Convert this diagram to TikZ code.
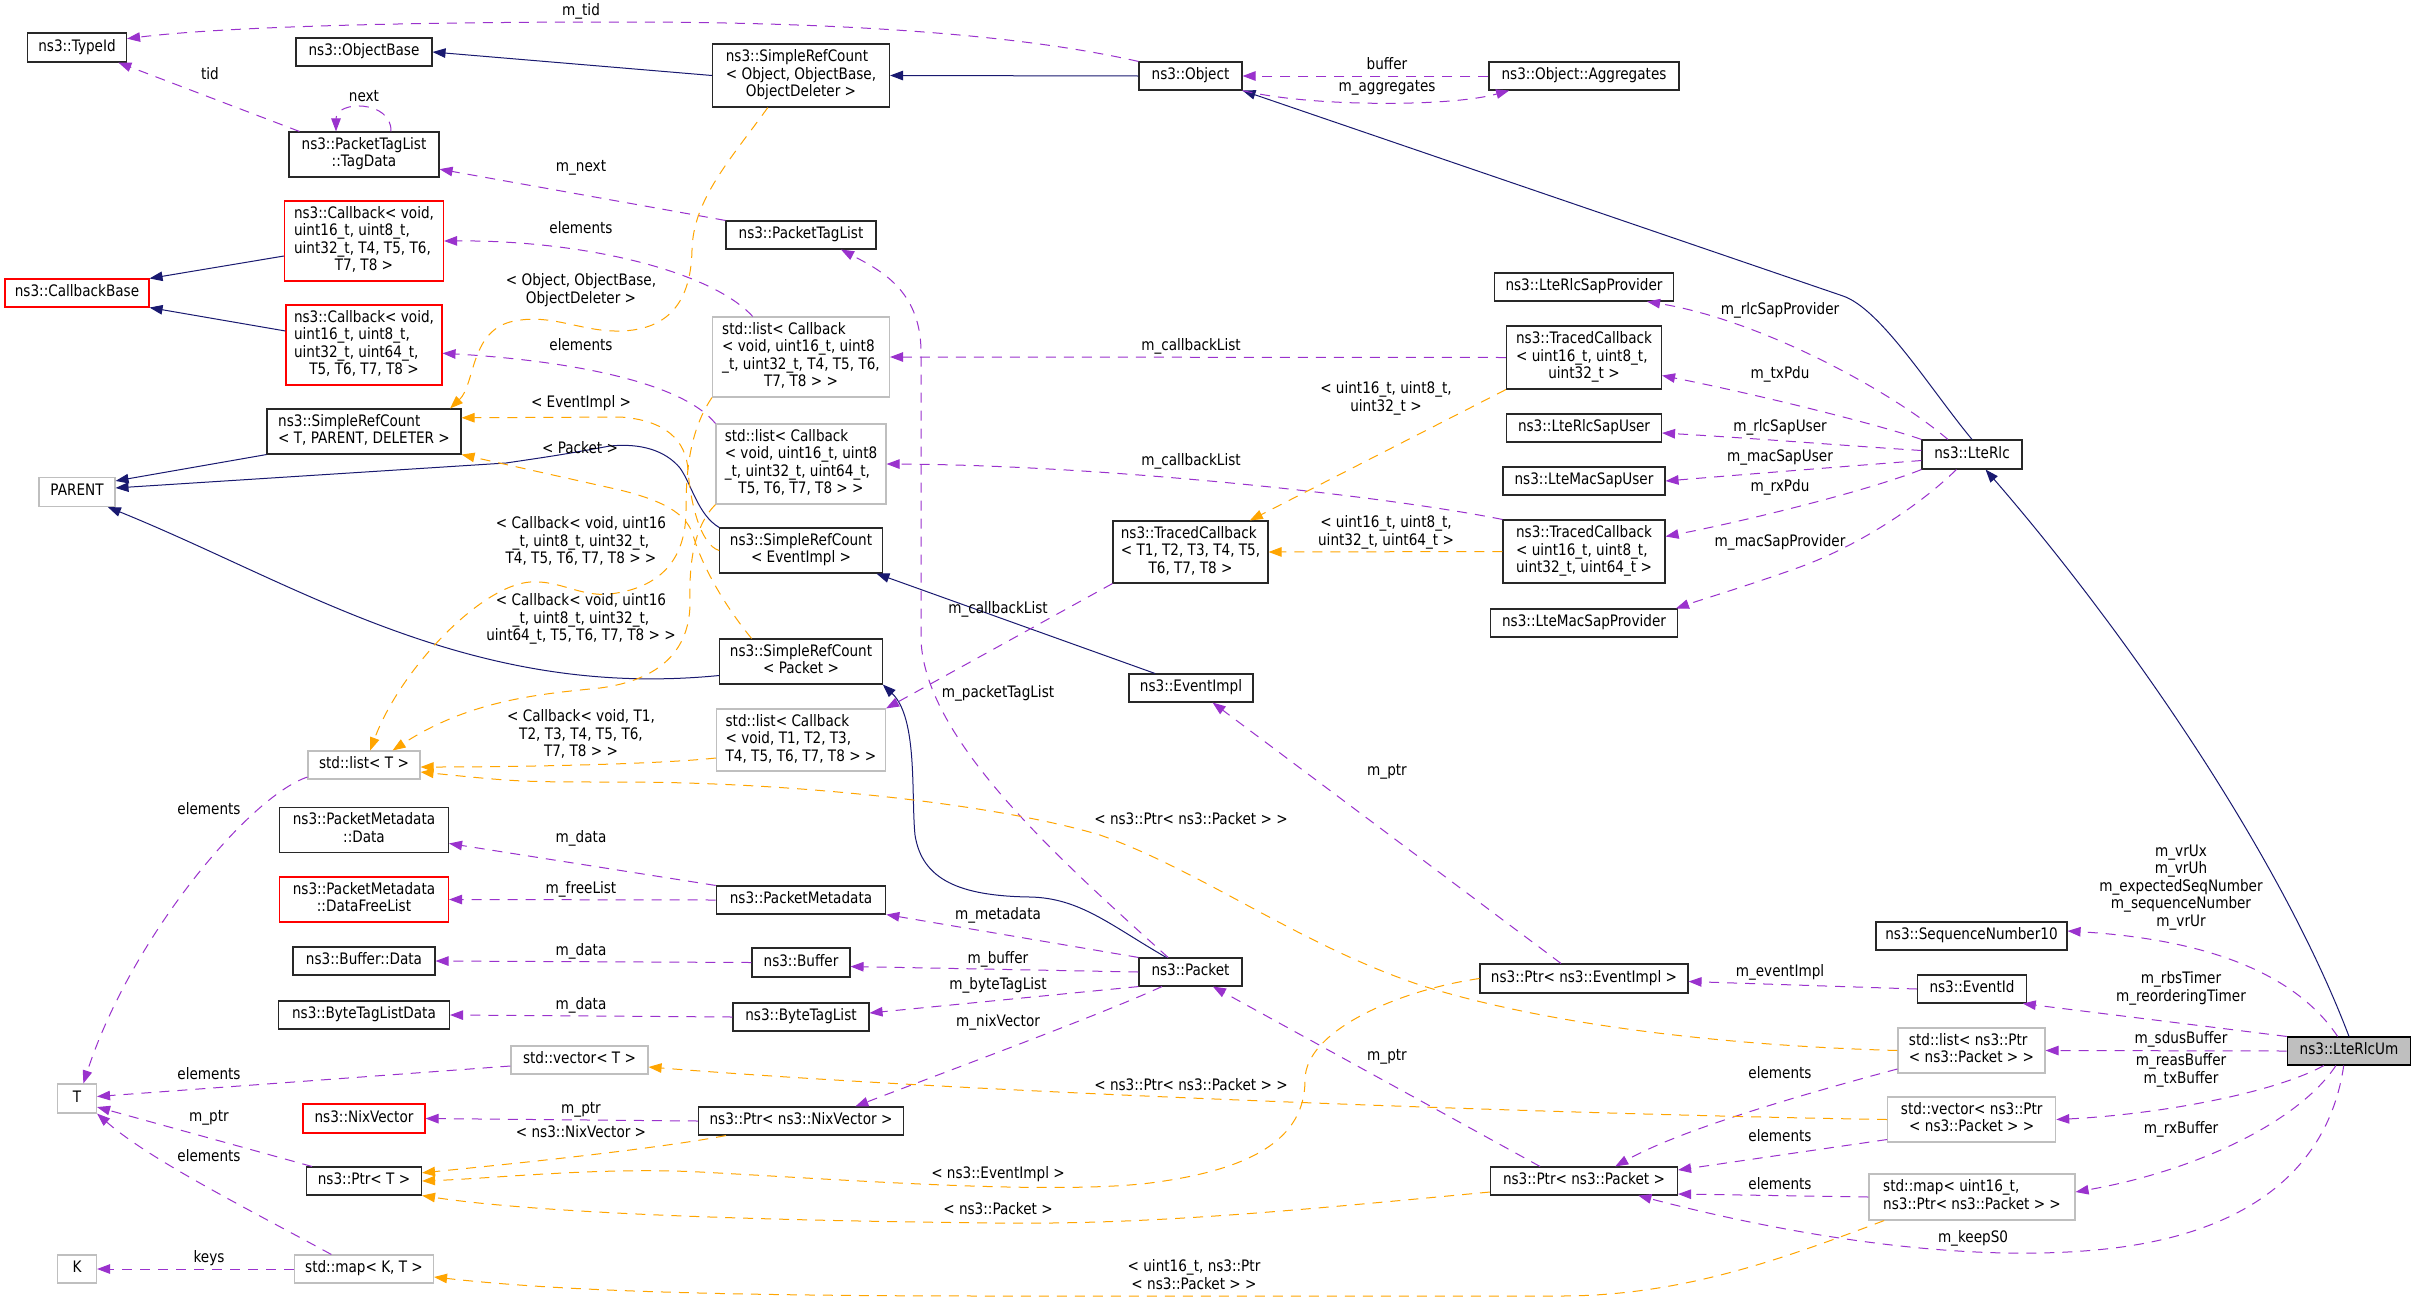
\documentclass[tikz,border=0pt]{standalone}
\usepackage{fontspec}
\setmainfont{DejaVu Sans}[FakeStretch=0.86]
\usetikzlibrary{arrows.meta}
\definecolor{BoxColor}{RGB}{40, 40, 40}
\definecolor{TmplBoxColor}{RGB}{191, 191, 191}
\definecolor{MainFillColor}{RGB}{191, 191, 191}
\definecolor{InheritColor}{RGB}{25, 25, 112}
\definecolor{UsageColor}{RGB}{154, 50, 205}
\definecolor{TmplColor}{RGB}{255, 165, 0}
\newcommand{\dxfont}{\fontsize{15.8}{17.5}\selectfont}
% left aligned lines, last line centered
\newcommand{\leftlines}[2]{\begin{tabular}{@{}l@{}}#1\\\multicolumn{1}{@{}c@{}}{#2}\end{tabular}}
\tikzset{
    classbox/.style={
        draw=BoxColor,
        line width=1.1pt,
        rectangle,
        font=\dxfont,
        inner xsep=3pt,
        inner ysep=2pt,
        minimum height=28,
        execute at begin node=\strut,
        execute at end node=\strut
    },
    partbox/.style={classbox, draw=red},
    tmplbox/.style={classbox, draw=TmplBoxColor},
    mainbox/.style={classbox, draw=black, fill=MainFillColor}
}

\begin{document}
\begin{tikzpicture}[x=1pt, y=-1pt]

    \path[use as bounding box, fill=white] (0,0) rectangle (2416,1301);

    % ============================================================================
    % CLASSES
    % ============================================================================

    % Left column: plain types
    \node[classbox, minimum width=99, minimum height=29] (TypeId) at (77,47.5) {ns3::TypeId};
    \node[partbox, minimum width=144] (CallbackBase) at (77,293) {ns3::CallbackBase};
    \node[tmplbox, minimum width=76, minimum height=29] (Parent) at (77,492) {PARENT};
    \node[tmplbox, minimum width=39, minimum height=29] (T) at (77,1098.5) {T};
    \node[tmplbox, minimum width=39] (K) at (77,1269) {K};

    % Second column
    \node[classbox, minimum width=136] (ObjectBase) at (364,52) {ns3::ObjectBase};
    \node[classbox, minimum width=150, minimum height=45] (TagData) at (364,154.5) {\leftlines{ns3::PacketTagList}{::TagData}};
    \node[partbox, minimum width=159, minimum height=80] (CbA) at (364,241) {\leftlines{ns3::Callback< void,\\uint16\_t, uint8\_t,\\uint32\_t, T4, T5, T6,}{T7, T8 >}};
    \node[partbox, minimum width=156, minimum height=80] (CbB) at (364,345) {\leftlines{ns3::Callback< void,\\uint16\_t, uint8\_t,\\uint32\_t, uint64\_t,}{T5, T6, T7, T8 >}};
    \node[classbox, minimum width=194, minimum height=45] (SrcTPD) at (364,431.5) {\leftlines{ns3::SimpleRefCount}{< T, PARENT, DELETER >}};
    \node[tmplbox, minimum width=112] (ListT) at (364,765) {std::list< T >};
    \node[classbox, minimum width=169, minimum height=45] (MetaData) at (364,830) {\leftlines{ns3::PacketMetadata}{::Data}};
    \node[partbox, minimum width=169, minimum height=45] (DataFreeList) at (364,899.5) {\leftlines{ns3::PacketMetadata}{::DataFreeList}};
    \node[classbox, minimum width=142] (BufferData) at (364,961) {ns3::Buffer::Data};
    \node[classbox, minimum width=171] (ByteTagListData) at (364,1015) {ns3::ByteTagListData};
    \node[partbox, minimum width=122, minimum height=29] (NixVector) at (364,1118.5) {ns3::NixVector};
    \node[classbox, minimum width=115] (PtrT) at (364,1181) {ns3::Ptr< T >};
    \node[tmplbox, minimum width=139] (MapKT) at (364,1269) {std::map< K, T >};
    \node[tmplbox, minimum width=137] (VectorT) at (579.5,1060) {std::vector< T >};

    % Third column
    \node[classbox, minimum width=177, minimum height=63] (SrcObject) at (801,75.5) {\leftlines{ns3::SimpleRefCount\\< Object, ObjectBase,}{ObjectDeleter >}};
    \node[classbox, minimum width=150] (PacketTagList) at (801,235) {ns3::PacketTagList};
    \node[tmplbox, minimum width=177, minimum height=80] (ListCbA) at (801,357) {\leftlines{std::list< Callback\\< void, uint16\_t, uint8\\\_t, uint32\_t, T4, T5, T6,}{T7, T8 > >}};
    \node[tmplbox, minimum width=170, minimum height=80] (ListCbB) at (801,464) {\leftlines{std::list< Callback\\< void, uint16\_t, uint8\\\_t, uint32\_t, uint64\_t,}{T5, T6, T7, T8 > >}};
    \node[classbox, minimum width=162.5, minimum height=45] (SrcEventImpl) at (801,550.5) {\leftlines{ns3::SimpleRefCount}{< EventImpl >}};
    \node[classbox, minimum width=162.5, minimum height=45] (SrcPacket) at (801,661.5) {\leftlines{ns3::SimpleRefCount}{< Packet >}};
    \node[tmplbox, minimum width=169, minimum height=62] (ListCbT) at (801,740) {\leftlines{std::list< Callback\\< void, T1, T2, T3,}{T4, T5, T6, T7, T8 > >}};
    \node[classbox, minimum width=169.5] (PacketMetadata) at (801,900) {ns3::PacketMetadata};
    \node[classbox, minimum width=98, minimum height=29] (Buffer) at (801,962.5) {ns3::Buffer};
    \node[classbox, minimum width=136] (ByteTagList) at (801,1017) {ns3::ByteTagList};
    \node[classbox, minimum width=205] (PtrNixVector) at (801,1121) {ns3::Ptr< ns3::NixVector >};

    % Fourth column
    \node[classbox, minimum width=103] (Object) at (1190.5,76) {ns3::Object};
    \node[classbox, minimum width=155, minimum height=62] (TracedCbT) at (1190.5,552) {\leftlines{ns3::TracedCallback\\< T1, T2, T3, T4, T5,}{T6, T7, T8 >}};
    \node[classbox, minimum width=124] (EventImpl) at (1191,688) {ns3::EventImpl};
    \node[classbox, minimum width=103] (Packet) at (1190.5,972) {ns3::Packet};

    % Fifth column
    \node[classbox, minimum width=190] (Aggregates) at (1584,76) {ns3::Object::Aggregates};
    \node[classbox, minimum width=179] (LteRlcSapProvider) at (1584,287) {ns3::LteRlcSapProvider};
    \node[classbox, minimum width=155, minimum height=63] (TracedCbA) at (1584,357.5) {\leftlines{ns3::TracedCallback\\< uint16\_t, uint8\_t,}{uint32\_t >}};
    \node[classbox, minimum width=155] (LteRlcSapUser) at (1584,428) {ns3::LteRlcSapUser};
    \node[classbox, minimum width=162] (LteMacSapUser) at (1584,481) {ns3::LteMacSapUser};
    \node[classbox, minimum width=162, minimum height=63] (TracedCbB) at (1584,551.5) {\leftlines{ns3::TracedCallback\\< uint16\_t, uint8\_t,}{uint32\_t, uint64\_t >}};
    \node[classbox, minimum width=187] (LteMacSapProvider) at (1584,623) {ns3::LteMacSapProvider};
    \node[classbox, minimum width=208, minimum height=29] (PtrEventImpl) at (1584,978.5) {ns3::Ptr< ns3::EventImpl >};
    \node[classbox, minimum width=187] (PtrPacket) at (1584,1181) {ns3::Ptr< ns3::Packet >};

    % Sixth column
    \node[classbox, minimum width=100, minimum height=29] (LteRlc) at (1972,454.5) {ns3::LteRlc};
    \node[classbox, minimum width=191] (SeqNum) at (1971.5,936) {ns3::SequenceNumber10};
    \node[classbox, minimum width=109] (EventId) at (1972,989) {ns3::EventId};
    \node[tmplbox, minimum width=147, minimum height=45] (ListPtrPkt) at (1971.5,1050.5) {\leftlines{std::list< ns3::Ptr}{< ns3::Packet > >}};
    \node[tmplbox, minimum width=168, minimum height=45] (VecPtrPkt) at (1971.7,1119.5) {\leftlines{std::vector< ns3::Ptr}{< ns3::Packet > >}};
    \node[tmplbox, minimum width=206, minimum height=46] (MapPtrPkt) at (1972,1197) {\leftlines{std::map< uint16\_t,}{ns3::Ptr< ns3::Packet > >}};

    % Main class
    \node[mainbox, minimum width=123.5] (LteRlcUm) at (2349,1051) {ns3::LteRlcUm};

    % ============================================================================
    % RELATIONSHIPS
    % ============================================================================

    \tikzset{
        inherits/.style={draw=InheritColor, line width=1pt, -{Triangle[length=13pt, width=9.5pt]}},
        uses/.style={draw=UsageColor, line width=1pt, dash pattern=on 10pt off 8pt, -{Triangle[length=13pt, width=9.5pt]}},
        instof/.style={draw=TmplColor, line width=1pt, dash pattern=on 10pt off 8pt, -{Triangle[length=13pt, width=9.5pt]}},
        lbl/.style={font=\dxfont, inner sep=0pt, align=center, execute at begin node=\strut, execute at end node=\strut}
    }

    % Inheritance
    \draw[inherits] (SrcObject.west) -- (ObjectBase.east);
    \draw[inherits] (Object.west) -- (SrcObject.east);
    \draw[inherits] (LteRlc.north) .. controls (1931,390) and (1881,309) .. (1843,296) -- (Object.south east);
    \draw[inherits] (LteRlcUm.north) .. controls (2277,847) and (2117,621) .. (LteRlc.-48);
    \draw[inherits] ([yshift=-15]CbA.west) -- (CallbackBase.north east);
    \draw[inherits] ([yshift=14]CbB.west) -- (CallbackBase.south east);
    \draw[inherits] (SrcTPD.south west) -- (Parent.16);
    \draw[inherits] (SrcEventImpl.north west) .. controls (698,515) and (692,485) .. (680,468) .. controls (665,450) and (640,443) .. (610,446) .. controls (560,455) .. (506,463) -- (Parent.6);
    \draw[inherits] ([yshift=-14]SrcPacket.west) .. controls (470,700) and (300,585) .. (Parent.-26);
    \draw[inherits] (EventImpl.158) -- (SrcEventImpl.-17);
    \draw[inherits] (Packet.149) .. controls (1110,925) and (1080,898) .. (1030,897) .. controls (960,896) and (922,880) .. (915,835) .. controls (911,795) and (918,718) .. (SrcPacket.south east);

    % Usage (members)
    \draw[uses] (Object.north west) .. controls (1000,30) and (800,22) .. (620,22) .. controls (400,22) and (220,27) .. (TypeId.10) node[lbl] (lTid) at (581,12) {m\_tid};
    \draw[uses] ([xshift=11]TagData.north west) -- (TypeId.-20) node[lbl] (lTidB) at (210,76) {tid};
    \draw[uses] ([xshift=27]TagData.north) .. controls (392,100) and (336,100) .. ([xshift=-28]TagData.north) node[lbl] (lNext) at (364,98) {next};
    \draw[uses] (PacketTagList.north west) -- (TagData.-11) node[lbl] (lNextB) at (581,168) {m\_next};
    \draw[uses] (Aggregates.west) -- (Object.east) node[lbl] (lBuffer) at (1387,66) {buffer};
    \draw[uses] (Object.south east) .. controls (1310,107) and (1450,107) .. (Aggregates.-169) node[lbl] (lAggr) at (1387,88) {m\_aggregates};
    \draw[uses] (Packet.147) .. controls (1060,860) and (925,740) .. (921,640) -- (921,350) .. controls (920,290) and (880,270) .. (PacketTagList.-20) node[lbl] (lPtl) at (998,694) {m\_packetTagList};
    \draw[uses] (ListCbA.140) .. controls (710,270) and (580,240) .. (CbA.east) node[lbl] (lElemA) at (581,230) {elements};
    \draw[uses] (ListCbB.north west) .. controls (680,380) and (560,360) .. (CbB.-6) node[lbl] (lElemB) at (581,347) {elements};
    \draw[uses] (TracedCbA.west) -- (ListCbA.east) node[lbl] (lCbListA) at (1191,347) {m\_callbackList};
    \draw[uses] (TracedCbB.north west) .. controls (1380,495) and (1100,465) .. (ListCbB.east) node[lbl] (lCbListB) at (1191,462) {m\_callbackList};
    \draw[uses] (TracedCbT.south west) -- (ListCbT.north east) node[lbl] (lCbListT) at (998,610) {m\_callbackList};

    % LteRlc members
    \draw[uses] (LteRlc.148) .. controls (1890,390) and (1760,320) .. (LteRlcSapProvider.-13) node[lbl] (lRlcProv) at (1780,311) {m\_rlcSapProvider};
    \draw[uses] (LteRlc.north west) .. controls (1880,425) and (1760,395) .. (TracedCbA.-13) node[lbl] (lTxPdu) at (1780,375) {m\_txPdu};
    \draw[uses] ([yshift=4]LteRlc.west) .. controls (1850,446) and (1750,438) .. ([yshift=-5]LteRlcSapUser.east) node[lbl] (lRlcUser) at (1780,428) {m\_rlcSapUser};
    \draw[uses] ([yshift=-6]LteRlc.west) .. controls (1850,466) and (1750,474) .. (LteMacSapUser.east) node[lbl] (lMacUser) at (1780,458) {m\_macSapUser};
    \draw[uses] (LteRlc.south west) .. controls (1870,490) and (1750,520) .. ([yshift=15]TracedCbB.east) node[lbl] (lRxPdu) at (1780,488) {m\_rxPdu};
    \draw[uses] (LteRlc.-136) .. controls (1920,505) and (1860,545) .. (1800,567) .. controls (1750,585) and (1700,600) .. (LteMacSapProvider.9) node[lbl] (lMacProv) at (1780,543) {m\_macSapProvider};

    % Pointers and packet members
    \draw[uses] ([xshift=-23]PtrEventImpl.north) -- (EventImpl.-34) node[lbl] (lPtrEv) at (1387,772) {m\_ptr};
    \draw[uses] ([xshift=-44]PtrPacket.north) -- (Packet.-33) node[lbl] (lPtrPkt) at (1387,1057) {m\_ptr};
    \draw[uses] (PacketMetadata.north west) -- (MetaData.-9) node[lbl] (lMetaData) at (581,839) {m\_data};
    \draw[uses] (PacketMetadata.west) -- (DataFreeList.east) node[lbl] (lFreeList) at (581,890) {m\_freeList};
    \draw[uses] (Packet.north west) -- (PacketMetadata.south east) node[lbl] (lMeta) at (998,916) {m\_metadata};
    \draw[uses] (Buffer.west) -- (BufferData.east) node[lbl] (lBufData) at (581,952) {m\_data};
    \draw[uses] (Packet.west) -- ([yshift=-4]Buffer.east) node[lbl] (lBuf) at (998,960) {m\_buffer};
    \draw[uses] (ByteTagList.west) -- (ByteTagListData.east) node[lbl] (lBtlData) at (581,1006) {m\_data};
    \draw[uses] (Packet.south west) -- ([yshift=4]ByteTagList.east) node[lbl] (lBtl) at (998,986) {m\_byteTagList};
    \draw[uses] (Packet.-153) .. controls (1100,1015) and (950,1070) .. (PtrNixVector.15) node[lbl] (lNix) at (998,1023) {m\_nixVector};
    \draw[uses] (PtrNixVector.west) -- (NixVector.east) node[lbl] (lPtrNix) at (581,1110) {m\_ptr};

    % Template parameters T and K
    \draw[uses] (ListT.-168) .. controls (248,797) and (130,940) .. (T.67) node[lbl] (lElemList) at (209,811) {elements};
    \draw[uses] ([yshift=-6]VectorT.west) -- ([yshift=2]T.east) node[lbl] (lElemVec) at (209,1076) {elements};
    \draw[uses] ([xshift=6]PtrT.north west) -- (T.-23) node[lbl] (lPtrT) at (209,1118) {m\_ptr};
    \draw[uses] (MapKT.156) .. controls (250,1210) and (150,1160) .. (T.south east) node[lbl] (lElemMap) at (209,1158) {elements};
    \draw[uses] (MapKT.west) -- (K.east) node[lbl] (lKeys) at (209,1259) {keys};

    % LteRlcUm members
    \draw[uses] (LteRlcUm.128) .. controls (2300,980) and (2220,940) .. ([yshift=5]SeqNum.east) node[lbl] (lSeq) at (2181,888) {m\_vrUx\\m\_vrUh\\m\_expectedSeqNumber\\m\_sequenceNumber\\m\_vrUr};
    \draw[uses] (LteRlcUm.north west) -- (EventId.-16) node[lbl] (lTimer) at (2181,989) {m\_rbsTimer\\m\_reorderingTimer};
    \draw[uses] (LteRlcUm.west) -- (ListPtrPkt.east) node[lbl] (lSdus) at (2181,1040) {m\_sdusBuffer};
    \draw[uses] (LteRlcUm.-150) .. controls (2270,1095) and (2150,1115) .. (VecPtrPkt.east) node[lbl] (lReas) at (2181,1071) {m\_reasBuffer\\m\_txBuffer};
    \draw[uses] (LteRlcUm.-132) .. controls (2300,1120) and (2200,1170) .. ([yshift=5]MapPtrPkt.east) node[lbl] (lRx) at (2181,1130) {m\_rxBuffer};
    \draw[uses] (LteRlcUm.-110) .. controls (2330,1160) and (2260,1230) .. (2114,1248) .. controls (1950,1268) and (1750,1225) .. (PtrPacket.-15) node[lbl] (lKeep) at (1973,1239) {m\_keepS0};
    \draw[uses] (EventId.west) -- ([yshift=-3]PtrEventImpl.east) node[lbl] (lEvImpl) at (1780,973) {m\_eventImpl};
    \draw[uses] (ListPtrPkt.-166) .. controls (1800,1095) and (1680,1130) .. (PtrPacket.25) node[lbl] (lElemLP) at (1780,1075) {elements};
    \draw[uses] ([yshift=-20]VecPtrPkt.west) -- ([yshift=11]PtrPacket.east) node[lbl] (lElemVP) at (1780,1138) {elements};
    \draw[uses] (MapPtrPkt.west) -- ([yshift=-13]PtrPacket.east) node[lbl] (lElemMP) at (1780,1186) {elements};

    % Template instances
    \draw[instof] (SrcObject.-136) .. controls (730,160) and (693,200) .. (692,250) .. controls (691,300) and (670,330) .. (620,331) .. controls (580,332) and (550,312) .. (510,322) .. controls (470,333) and (475,385) .. (SrcTPD.15) node[lbl] (lTplObj) at (581,291) {< Object, ObjectBase,\\ObjectDeleter >};
    \draw[instof] (SrcEventImpl.west) .. controls (700,545) and (690,500) .. (688,470) .. controls (686,440) and (665,420) .. (620,417) -- (SrcTPD.8) node[lbl] (lTplEv) at (581,404) {< EventImpl >};
    \draw[instof] (SrcPacket.155) .. controls (720,600) and (700,560) .. (693,535) .. controls (686,512) and (660,500) .. (620,490) -- (SrcTPD.south east) node[lbl] (lTplPkt) at (580,450) {< Packet >};
    \draw[instof] (ListCbA.south west) .. controls (690,430) and (686,470) .. (686,510) .. controls (686,560) and (660,588) .. (610,594) .. controls (580,597) and (560,580) .. (530,582) .. controls (480,586) and (400,670) .. (ListT.67) node[lbl] (lTplCbA) at (581,543) {< Callback< void, uint16\\\_t, uint8\_t, uint32\_t,\\T4, T5, T6, T7, T8 > >};
    \draw[instof] (ListCbB.south west) .. controls (695,525) and (689,560) .. (690,600) .. controls (691,650) and (660,680) .. (600,688) .. controls (540,694) and (470,700) .. (ListT.27) node[lbl] (lTplCbB) at (581,620) {< Callback< void, uint16\\\_t, uint8\_t, uint32\_t,\\uint64\_t, T5, T6, T7, T8 > >};
    \draw[instof] ([yshift=-18]ListCbT.west) .. controls (650,765) and (500,767) .. ([yshift=-2]ListT.east) node[lbl] (lTplCbT) at (581,736) {< Callback< void, T1,\\T2, T3, T4, T5, T6,\\T7, T8 > >};
    \draw[instof] (ListPtrPkt.west) .. controls (1700,1045) and (1530,1020) .. (1420,985) .. controls (1300,945) and (1200,870) .. (1100,835) .. controls (1000,805) and (800,782) .. (620,782) .. controls (520,782) .. ([yshift=-7]ListT.east) node[lbl] (lTplListPkt) at (1191,821) {< ns3::Ptr< ns3::Packet > >};
    \draw[instof] (TracedCbA.south west) -- (TracedCbT.28) node[lbl] (lTplA) at (1386,399) {< uint16\_t, uint8\_t,\\uint32\_t >};
    \draw[instof] (TracedCbB.west) -- (TracedCbT.east) node[lbl] (lTplB) at (1386,533) {< uint16\_t, uint8\_t,\\uint32\_t, uint64\_t >};
    \draw[instof] (VecPtrPkt.west) .. controls (1600,1115) and (1000,1095) .. ([yshift=-7]VectorT.east) node[lbl] (lTplVec) at (1191,1087) {< ns3::Ptr< ns3::Packet > >};
    \draw[instof] ([xshift=28]PtrNixVector.south west) .. controls (650,1150) and (500,1165) .. (PtrT.8) node[lbl] (lTplNix) at (581,1134) {< ns3::NixVector >};
    \draw[instof] (PtrEventImpl.west) .. controls (1400,990) and (1305,1030) .. (1305,1080) .. controls (1305,1140) and (1250,1170) .. (1150,1183) .. controls (1050,1195) and (850,1180) .. (700,1172) .. controls (600,1167) and (500,1178) .. (PtrT.east) node[lbl] (lTplEv2) at (998,1175) {< ns3::EventImpl >};
    \draw[instof] ([yshift=-11]PtrPacket.west) .. controls (1300,1210) and (1150,1225) .. (995,1223) .. controls (800,1221) and (550,1215) .. (PtrT.south east) node[lbl] (lTplPkt2) at (998,1211) {< ns3::Packet >};
    \draw[instof] (MapPtrPkt.-165) .. controls (1780,1260) and (1680,1296) .. (1560,1296) -- (1000,1296) .. controls (700,1296) and (550,1290) .. ([yshift=-8]MapKT.east) node[lbl] (lTplMap) at (1194,1277) {< uint16\_t, ns3::Ptr\\< ns3::Packet > >};

\end{tikzpicture}
\end{document}
